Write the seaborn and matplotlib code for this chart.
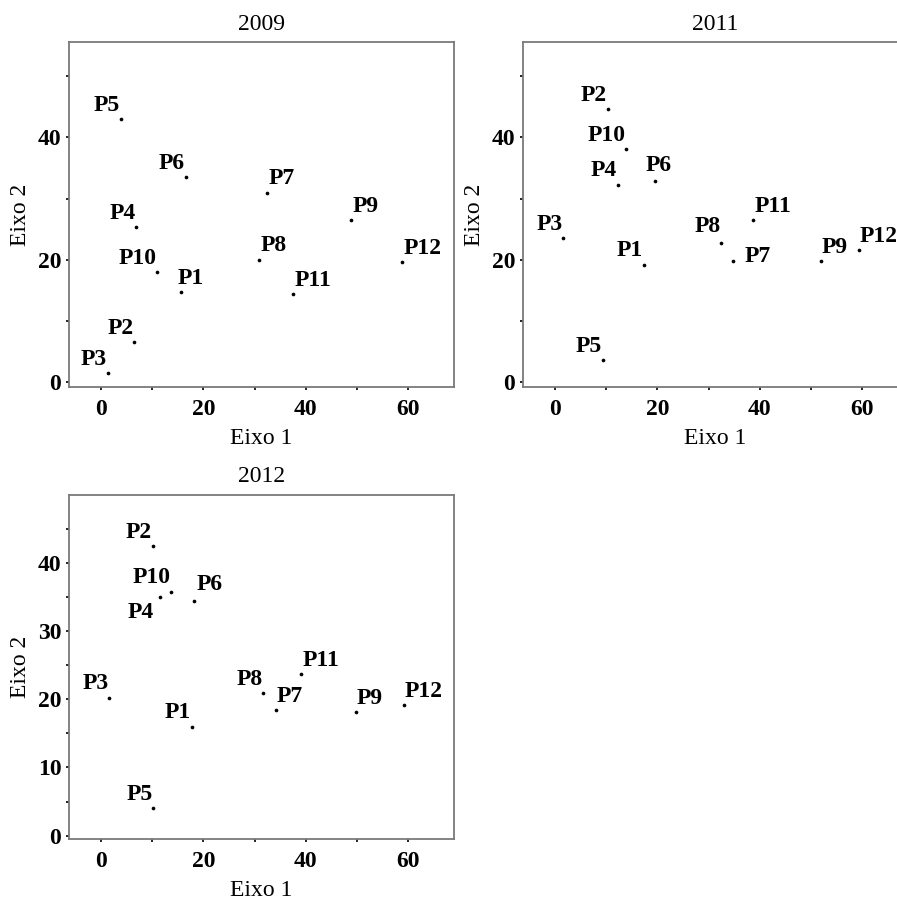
import pandas as pd
import matplotlib
matplotlib.use("Agg")
import matplotlib.pyplot as plt
import seaborn as sns

# data
labels = ["P1", "P2", "P3", "P4", "P5", "P6", "P7", "P8", "P9", "P10", "P11", "P12"]

x_2009 = [15.7, 6.45, 1.3, 6.85, 3.85, 16.5, 32.4, 30.8, 48.9, 10.95, 37.6, 58.9]
y_2009 = [14.7, 6.6, 1.5, 25.3, 43.0, 33.5, 30.95, 20.0, 26.5, 18.06, 14.4, 19.6]

x_2011 = [17.4, 10.3, 1.57, 12.2, 9.27, 19.5, 34.8, 32.4, 51.9, 13.9, 38.7, 59.4]
y_2011 = [19.15, 44.6, 23.6, 32.3, 3.6, 32.9, 19.8, 22.7, 19.75, 38.1, 26.5, 21.6]

x_2012 = [17.7, 10.1, 1.56, 11.5, 10.2, 18.2, 34.1, 31.7, 49.8, 13.7, 39.0, 59.2]
y_2012 = [16.0, 42.5, 20.2, 35.0, 4.0, 34.5, 18.4, 20.9, 18.1, 35.8, 23.7, 19.2]

x_ticks = [0, 10, 20, 30, 40, 50, 60]
x_ticklabels = ["0", "", "20", "", "40", "", "60"]
y_ticks_a = [0, 10, 20, 30, 40, 50]
y_ticklabels_a = ["0", "", "20", "", "40", ""]
y_ticks_b = [0, 5, 10, 15, 20, 25, 30, 35, 40, 45]
y_ticklabels_b = ["0", "", "10", "", "20", "", "30", "", "40", ""]

# label offsets (pixels) from each point, same order as labels
off_2009 = [(9, 8.5), (-14, 8), (-14, 8), (-14, 8), (-14, 8.5), (-14, 8), (14.5, 8.5),
            (14.5, 8.5), (14.5, 8.5), (-20, 8), (20, 8), (20, 8.5)]
off_2011 = [(-14, 8.5), (-14, 8.5), (-14, 8), (-14, 8.5), (-14, 8.5), (4, 10), (25, -1),
            (-13.5, 11), (14, 8), (-20, 8), (20, 8), (20, 7.5)]
off_2012 = [(-14, 8.5), (-14, 8.5), (-14, 8.5), (-19, -20.5), (-13.5, 8.5), (15.5, 10.5),
            (14.5, 8.5), (-13.5, 8.5), (14, 8.5), (-20, 8.5), (20, 8.5), (20, 8)]

sns.set_style("white")
plt.rcParams["font.family"] = ["Liberation Serif", "DejaVu Serif"]
plt.rcParams["text.color"] = "black"
plt.rcParams["axes.labelcolor"] = "black"

fig = plt.figure(figsize=(8.97, 9.0), dpi=100)
W, H = 897, 900


def panel(rect, xs, ys, offs, title, yticks, yticklabels, ylim):
    l, t, w, h = rect
    ax = fig.add_axes([l / W, 1 - (t + h) / H, w / W, h / H])
    df = pd.DataFrame({"x": xs, "y": ys, "lab": labels})
    sns.scatterplot(data=df, x="x", y="y", ax=ax, color="black", s=7,
                    linewidth=0, legend=False)
    for (px, py, lab), (dx, dy) in zip(zip(xs, ys, labels), offs):
        ax.annotate(lab, (px, py), xytext=(dx, dy), textcoords="offset pixels",
                    ha="center", va="baseline", fontsize=17, fontweight="bold",
                    color="black", annotation_clip=False)
    ax.set_xlim(-6.3, 69)
    ax.set_ylim(*ylim)
    ax.set_xticks(x_ticks)
    ax.set_xticklabels(x_ticklabels, fontsize=17, fontweight="bold")
    ax.set_yticks(yticks)
    ax.set_yticklabels(yticklabels, fontsize=17, fontweight="bold")
    ax.tick_params(axis="both", length=2.5, width=1.2, color="black", pad=3,
                   labelcolor="black", bottom=True, left=True)
    ax.tick_params(axis="x", pad=6)
    for sp in ax.spines.values():
        sp.set_color("#7a7a7a")
        sp.set_linewidth(1.3)
    ax.set_xlabel("Eixo 1", fontsize=17, labelpad=6)
    ax.set_ylabel("Eixo 2", fontsize=17, labelpad=5)
    ax.set_title(title, fontsize=17, pad=9, color="black")
    return ax


panel((69, 42, 385, 345), x_2009, y_2009, off_2009, "2009", y_ticks_a, y_ticklabels_a, (-0.8, 55.6))
panel((523, 42, 385, 345), x_2011, y_2011, off_2011, "2011", y_ticks_a, y_ticklabels_a, (-0.8, 55.6))
panel((69, 495, 385, 344), x_2012, y_2012, off_2012, "2012", y_ticks_b, y_ticklabels_b, (-0.5, 50))

fig.savefig("out.png", dpi=100)
